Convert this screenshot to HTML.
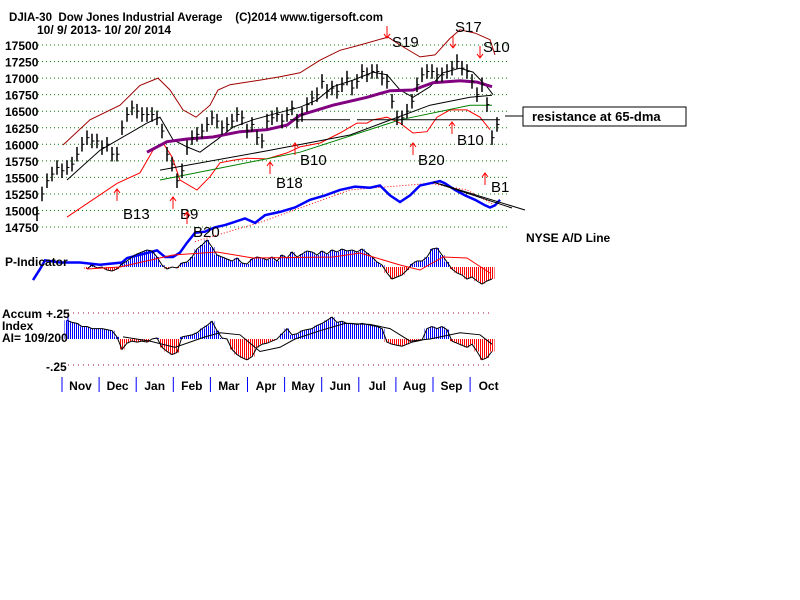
<!DOCTYPE html>
<html><head><meta charset="utf-8">
<style>
html,body{margin:0;padding:0;background:#fff;}
svg{display:block;font-family:"Liberation Sans",Arial,sans-serif;}
.t{font-weight:bold;font-size:12px;fill:#000;}
</style></head>
<body>
<svg id="chart" width="800" height="600" viewBox="0 0 800 600">
<defs>
<pattern id="pb" width="2" height="4" patternUnits="userSpaceOnUse"><rect x="0" y="0" width="1" height="4" fill="#0000ff"/></pattern>
<pattern id="pr" width="2" height="4" patternUnits="userSpaceOnUse"><rect x="0" y="0" width="1" height="4" fill="#ff0000"/></pattern>
</defs>
<text class="t" x="9" y="21" textLength="374" lengthAdjust="spacingAndGlyphs" xml:space="preserve">DJIA-30  Dow Jones Industrial Average    (C)2014 www.tigersoft.com</text>
<text class="t" x="37" y="34">10/ 9/ 2013- 10/ 20/ 2014</text>
<g id="grid"></g>
<g id="ylabels"></g>
<g id="overlays"></g>
<g id="bars"></g>
<g id="pind"></g>
<g id="ai"></g>
<g id="signals"></g>
<g id="months"></g>
<text class="t" x="5" y="266">P-Indicator</text>
<text class="t" x="2" y="318">Accum</text>
<text class="t" x="2" y="330">Index</text>
<text class="t" x="2" y="342">AI= 109/200</text>
<text class="t" x="46" y="318">+.25</text>
<text class="t" x="46" y="371">-.25</text>
<text class="t" x="526" y="242">NYSE A/D Line</text>
<line x1="505" y1="116" x2="523" y2="116" stroke="#000"/>
<rect x="523" y="107" width="163" height="19" fill="#fff" stroke="#000"/>
<text x="532" y="121" style="font-weight:bold;font-size:13px">resistance at 65-dma</text>
</svg>
<script>
const priceTicks=[17500,17250,17000,16750,16500,16250,16000,15750,15500,15250,15000,14750];
const months=["Nov","Dec","Jan","Feb","Mar","Apr","May","Jun","Jul","Aug","Sep","Oct"];
const closes=[14950,15250,15450,15550,15650,15600,15650,15700,15850,16000,16100,16050,16050,15950,16000,15850,15850,16250,16450,16550,16500,16450,16450,16450,16400,16200,15850,15700,15450,15600,15950,16100,16150,16200,16300,16400,16350,16250,16300,16350,16450,16400,16200,16300,16100,16050,16350,16400,16450,16350,16450,16550,16350,16450,16600,16700,16750,16950,16800,16850,16800,16900,17000,16850,16950,17100,17050,17100,17100,17000,16950,16650,16400,16400,16500,16650,16900,17050,17100,17100,17050,17050,17100,17150,17250,17150,17100,16950,16750,16900,16600,16100,16300];
const upperW=[5.2,10.6,16.6,20.6,24.2,26.6,29.2,31.8,34.6,36.2,38.6,44.6,48.6,52.6,56.6,60.6,64.6,70.2,72.6,76.6,79.6,82.6,84.6,87.6,90.6,91.6];
const upperV=[15990,16370,16590,16890,17000,16820,16520,16410,16590,16820,16900,16970,17020,17080,17270,17420,17500,17620,17500,17320,17350,17600,17730,17680,17580,17350];
const lowerW=[6,16,20.6,23.2,25.2,27,28.6,32,34.6,36.6,39.2,42,46,50,52.6,56.6,60.6,64,66,67.2,70,72.6,75.2,78,80,82.6,86,88.6,90.6];
const lowerV=[14900,15410,15570,15910,16020,15810,15460,15310,15510,15720,15760,15790,15780,15870,15960,16020,16170,16320,16320,16370,16410,16320,16170,16190,16410,16520,16520,16410,16220];
const ma21W=[6,12.6,22,24.6,27.2,30,32.6,36,39.2,43.2,48,52.6,56,59.2,63.2,67.2,70,72.6,75.2,78.6,81.2,84.6,87.2,90,91.2];
const ma21V=[15460,15910,16320,16410,16070,15960,15880,16070,16260,16370,16470,16560,16670,16870,16970,17090,17050,16820,16710,16870,17080,17150,17090,16870,16750];
const ma65W=[22,26,30,35.2,40.6,46,50,52.6,59.2,66,70.6,75.2,79.2,84.6,88,91];
const ma65V=[15880,16040,16080,16110,16190,16220,16290,16440,16590,16710,16810,16820,16930,16960,16940,16870];
const longW=[24.6,46.6,62.6,78.6,86.6,91];
const longV=[15610,15910,16140,16590,16710,16740];
const greenW=[24.6,52.6,72.6,86.6,91];
const greenV=[15460,15880,16370,16590,16590];
const adW=[-0.8,0.6,1.6,4.6,8.6,12.6,17,18,20.6,24,25.6,27.2,28.6,30,31.6,33.6,35.6,37.6,39.6,41.6,43.6,45.6,48.6,51.6,54.6,57.6,60.6,63.6,66.6,68.6,70.6,72.6,74.6,76.6,78.6,80.6,81.6,83.6,85.6,87.6,89.6,90.6,91.6,92.6];
const adV=[9,19,27,25,25,23,25,29,32,36,30,30,34,43,52,53,57,59,62,65,61,68,71,75,82,86,91,94,93,95,86,80,86,95,97,99,97,91,86,82,77,75,77,82];
const adMaW=[31.6,45,62.6,78.6,86,91.6];
const adMaV=[44,62,91,97,91,77];
const pindStart=10;
const pindV=[-2,2,-1,0,-3,-4,-2,3,6,10,13,15,17,16,10,2,-2,0,-1,4,5,10,18,22,27,20,12,10,8,6,9,4,3,8,10,9,7,10,6,12,9,15,10,13,16,15,12,16,13,17,15,18,16,17,15,18,14,10,5,2,-6,-12,-10,-8,-3,3,6,6,10,18,19,12,5,-2,-6,-8,-12,-10,-14,-17,-14,-12];
const pmaW=[10,16.6,27.2,36,43.2,59.2,64.6,72.6,76.6,81.2,86,90.6];
const pmaV=[-2,0,12,15,9,10,14,2,-3,10,9,-6];
const aiStart=6;
const aiV=[.18,.16,.15,.12,.12,.1,.1,.1,.09,.08,.02,-.1,-.04,-.02,-.03,-.02,-.03,0,.01,-.08,-.12,-.15,-.13,.02,.03,.04,.06,.1,.13,.17,.08,.01,0,-.1,-.15,-.18,-.2,-.17,-.08,-.05,-.04,-.02,0,.05,.1,.04,.05,.08,.09,.1,.13,.15,.18,.21,.16,.17,.15,.15,.14,.15,.14,.13,.12,.1,-.03,-.05,-.06,-.07,-.05,-.03,-.02,-.01,.1,.12,.1,.12,.09,-.02,-.04,-.06,-.08,-.05,-.12,-.2,-.18,-.12];
const aiMaW=[17.2,22.6,27.6,33.6,36.6,40.6,44.6,48.6,51.6,56.6,61.6,66.6,70.6,74.6,78.6,84.6,88.6,91];
const aiMaV=[.02,-.02,-.08,.02,.06,.04,-.12,-.08,0,.08,.15,.14,.1,-.02,0,.06,.04,-.05];
const sigNames=["B13","B9","B20","B18","B10","B20","B10","B1","S19","S17","S10"];
const sigW=[16,27.2,30,46.6,51.6,75.2,83,89.6,70,83.2,88.6];
const sigPrice=[15326,15205,14978,15733,16020,16020,16337,15567,17606,17455,17304];
const sigDir=[1,1,1,1,1,1,1,1,-1,-1,-1];
const sigLabelDy=[30,22,25,26,22,22,23,19,9,-16,-6];
const sigLabelDx=[6,7,6,6,5,5,5,6,5,2,3];

const NS="http://www.w3.org/2000/svg";
const X=w=>37+w*5;
const PY=p=>45+(17500-p)/250*16.55;
const ADY=v=>290-v*1.1;
const P0=267, PY2=v=>P0-v;
const A0=339, AY=v=>A0-v/0.25*26;
function mk(tag,attrs,parent){const e=document.createElementNS(NS,tag);for(const k in attrs)e.setAttribute(k,attrs[k]);document.getElementById(parent).appendChild(e);return e;}
function pts(ws,vs,f){return ws.map((w,i)=>X(w).toFixed(1)+","+f(vs[i]).toFixed(1)).join(" ");}

priceTicks.forEach(p=>{
  const g=mk("line",{x1:38,x2:510,y1:PY(p),y2:PY(p),stroke:"#008000","stroke-dasharray":"1,3"},"grid");
  
  
  const t=mk("text",{x:5,y:PY(p)+5,"class":"t"},"ylabels");t.textContent=p;
  
  
});
[0.25,-0.25].forEach(v=>{
  const g=mk("line",{x1:68,x2:492,y1:AY(v),y2:AY(v),stroke:"#a00040","stroke-dasharray":"1,4"},"grid");
  
  
});
function line(ws,vs,f,stroke,w,name,extra){
  const e=mk("polyline",Object.assign({points:pts(ws,vs,f),fill:"none",stroke:stroke,"stroke-width":w},extra||{}),"overlays");
  
  
}
line(upperW,upperV,PY,"#a00000",1,"upper-band");
line(lowerW,lowerV,PY,"#ff0000",1,"lower-band");
line(longW,longV,PY,"#000",1,"long-ma-line");
line(greenW,greenV,PY,"#008000",1,"green-ma-line");
line(ma21W,ma21V,PY,"#000",1,"ma21-line");
line(ma65W,ma65V,PY,"#800080",3,"ma65-line");
line(adMaW,adMaV,ADY,"#ff0000",1,"ad-ma-line",{"stroke-dasharray":"1,2"});
line(adW,adV,ADY,"#0000ff",2.5,"ad-line");
[[290,350],[357,500]].forEach(s=>{
  const e=mk("line",{x1:s[0],x2:s[1],y1:PY(16370),y2:PY(16370),stroke:"#000"},"overlays");
  
  
});
[[433,182,512,208],[440,184,525,210]].forEach(s=>{
  const e=mk("line",{x1:s[0],y1:s[1],x2:s[2],y2:s[3],stroke:"#000"},"overlays");
  
  
});

closes.forEach((c,i)=>{
  const x=X(i);
  const b=mk("line",{x1:x,x2:x,y1:PY(c+110),y2:PY(c-110),stroke:"#000","stroke-width":1.5},"bars");
  
  
  const t=mk("line",{x1:x,x2:x+2.5,y1:PY(c),y2:PY(c),stroke:"#000"},"bars");
  
  
});

function area(start,vals,zeroY,f,pid){
  let pos="",neg="";
  vals.forEach((v,i)=>{
    const x0=X(start+i)-2.5,x1=X(start+i)+2.5;
    const y=f(v);
    const r=`M${x0},${zeroY}L${x0},${y}L${x1},${y}L${x1},${zeroY}Z`;
    if(v>=0)pos+=r;else neg+=r;
  });
  const a=mk("path",{d:pos,fill:"url(#pb)"},pid);
  
  
  const b=mk("path",{d:neg,fill:"url(#pr)"},pid);
  
  
  const l=mk("polyline",{points:vals.map((v,i)=>X(start+i)+","+f(v)).join(" "),fill:"none",stroke:"#000"},pid);
  
  
}
area(pindStart,pindV,P0,PY2,"pind");
const pm=mk("polyline",{points:pts(pmaW,pmaV,PY2),fill:"none",stroke:"#ff0000"},"pind");


area(aiStart,aiV,A0,AY,"ai");
const am=mk("polyline",{points:pts(aiMaW,aiMaV,AY),fill:"none",stroke:"#000"},"ai");


const ax=mk("line",{x1:68,x2:68,y1:AY(0.25),y2:A0,stroke:"#0000ff"},"ai");



sigNames.forEach((n,i)=>{
  const x=X(sigW[i]);
  const up=sigDir[i]>0;
  const yTip=PY(sigPrice[i]);
  const yTail=up?yTip+12:yTip-12;
  const a=mk("path",{d:`M${x},${yTail}L${x},${yTip}M${x-3},${yTip+(up?4:-4)}L${x},${yTip}L${x+3},${yTip+(up?4:-4)}`,stroke:"#ff0000",fill:"none"},"signals");
  
  
  const t=mk("text",{x:x+sigLabelDx[i],y:yTip+sigLabelDy[i],"font-size":"15px",fill:"#000"},"signals");t.textContent=n;
  
  
});

months.forEach((m,i)=>{
  const x=62+i*37.1;
  const s=mk("line",{x1:x,x2:x,y1:377,y2:392,stroke:"#0000ff"},"months");
  
  
  const t=mk("text",{x:x+18.5,y:390,"class":"t","text-anchor":"middle"},"months");t.textContent=m;
  
  
});
</script>
</body></html>
